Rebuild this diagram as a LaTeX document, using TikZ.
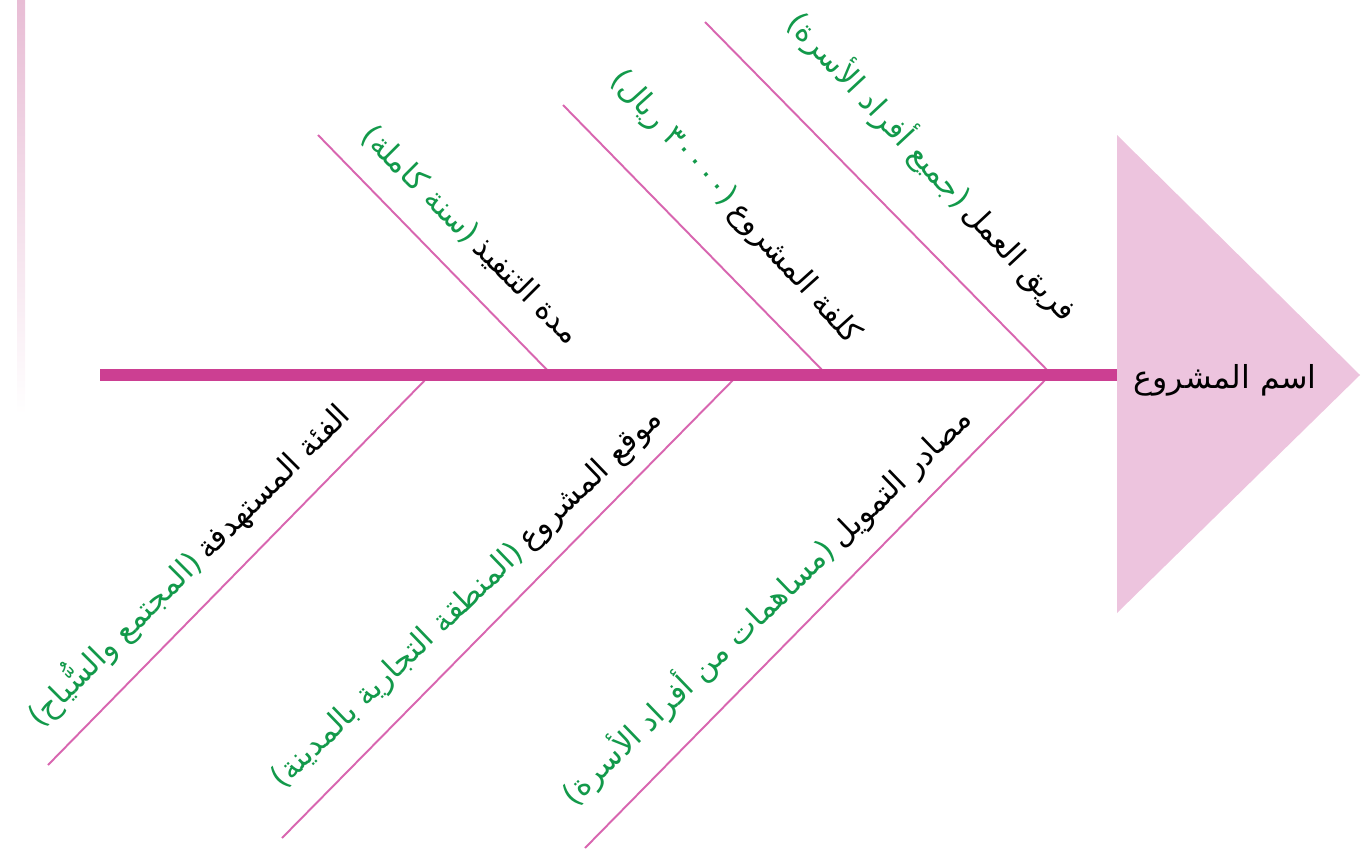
\documentclass[tikz,border=0pt]{standalone}
\usepackage{fontspec}
\usepackage{xcolor}
\newfontfamily\arabicfont[Script=Arabic]{DejaVu Sans}
\TeXXeTstate=1
\definecolor{spinepink}{HTML}{CC3F92}
\definecolor{bonepink}{HTML}{D866B0}
\definecolor{headpink}{HTML}{EDC4DE}
\definecolor{barpink}{HTML}{E8BDD5}
\definecolor{notegreen}{HTML}{12994A}

\begin{document}
\begin{tikzpicture}[x=0.02cm,y=-0.02cm]

  %Styles for picture
  \tikzset
  {
  spine/.style={line width=6.8pt, spinepink},
  bone/.style={line width=1.1pt, bonepink},
  uplabel/.style={font=\arabicfont\fontsize{17.5}{20}\selectfont, rotate=-45, inner sep=0pt, anchor=base east},
  downlabel/.style={font=\arabicfont\fontsize{17.5}{20}\selectfont, rotate=45, inner sep=0pt, anchor=base east},
  note/.style={text=notegreen, inner xsep=3pt},
  headlabel/.style={font=\arabicfont\fontsize{18}{20}\selectfont, inner sep=0pt},
  }

  \useasboundingbox (0,0) rectangle (1363,852);

  %Side bar and head
  \shade[top color=barpink, bottom color=white] (17,0) rectangle (25,415);
  \coordinate (h1) at (1117,135);
  \coordinate (h2) at (1360,375);
  \coordinate (h3) at (1117,613);
  \fill[headpink] (h1) -- (h2) -- (h3) -- cycle;

  %Coordinates
  \coordinate (s0) at (100,375);
  \coordinate (s1) at (1117,375);
  \coordinate (j1) at (552,375);
  \coordinate (j2) at (827,375);
  \coordinate (j3) at (1052,375);
  \coordinate (k1) at (430,375);
  \coordinate (k2) at (738,375);
  \coordinate (k3) at (1050,375);
  \coordinate (t1) at (318,135);
  \coordinate (t2) at (563,105);
  \coordinate (t3) at (705,22);
  \coordinate (b1) at (48,765);
  \coordinate (b2) at (282,838);
  \coordinate (b3) at (585,848);

  %Edges
  \draw[bone] (t1) -- (j1);
  \draw[bone] (t2) -- (j2);
  \draw[bone] (t3) -- (j3);
  \draw[bone] (k1) -- (b1);
  \draw[bone] (k2) -- (b2);
  \draw[bone] (k3) -- (b3);
  \draw[spine] (s0) -- (s1);

  %Nodes
  \node[headlabel] (head) at (1225,380) {\beginR اسم المشروع\endR};

  \node[uplabel] (u1) at (568,346) {\beginR مدة التنفيذ\endR};
  \node[uplabel, note] (u1n) at (u1.base west) {\beginR(سنة كاملة)\endR};
  \node[uplabel, rotate=-3] (u2) at (849,346) {\beginR كلفة المشروع\endR};
  \node[uplabel, note, rotate=-3] (u2n) at (u2.base west) {\beginR(٣٠٠٠٠ ريال)\endR};
  \node[uplabel, rotate=-2] (u3) at (1064,324) {\beginR فريق العمل\endR};
  \node[uplabel, note, rotate=-2] (u3n) at (u3.base west) {\beginR(جميع أفراد الأسرة)\endR};

  \node[downlabel] (d1) at (352,417) {\beginR الفئة المستهدفة\endR};
  \node[downlabel, note] (d1n) at (d1.base west) {\beginR(المجتمع والسُّياح)\endR};
  \node[downlabel, rotate=-1] (d2) at (664,421) {\beginR موقع المشروع\endR};
  \node[downlabel, note, rotate=-1] (d2n) at (d2.base west) {\beginR(المنطقة التجارية بالمدينة)\endR};
  \node[downlabel, rotate=-1] (d3) at (974,421) {\beginR مصادر التمويل\endR};
  \node[downlabel, note, rotate=-1] (d3n) at (d3.base west) {\beginR(مساهمات من أفراد الأسرة)\endR};
\end{tikzpicture}
\end{document}
